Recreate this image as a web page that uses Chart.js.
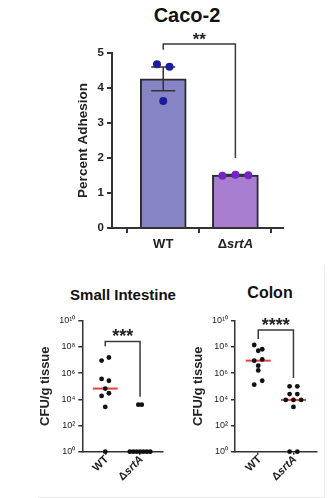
<!DOCTYPE html>
<html>
<head>
<meta charset="utf-8">
<title>Caco-2 adhesion / CFU per g tissue</title>
<script src="https://cdn.jsdelivr.net/npm/chart.js@4.4.1/dist/chart.umd.min.js"></script>
<style>
  html, body { margin: 0; padding: 0; background: #fff; }
  body { position: relative; width: 328px; height: 498px; overflow: hidden; font-family: 'Liberation Sans', Arial, sans-serif; color: #111; }
  .panel { position: absolute; }
  .title { position: absolute; text-align: center; font-weight: bold; white-space: nowrap; }
  .frame { position: absolute; left: 38px; top: 265px; width: 287px; height: 233px; box-sizing: border-box; border-right: 1px solid #ececec; border-bottom: 1px solid #ececec; }
</style>
</head>
<body>
<div class="frame"></div>
<div class="title" style="left:87px;top:3px;width:200px;font-size:20px;line-height:24px">Caco-2</div>
<div class="title" style="left:43px;top:286px;width:160px;font-size:15px;line-height:18px">Small Intestine</div>
<div class="title" style="left:200px;top:283px;width:140px;font-size:16px;line-height:19px">Colon</div>
<div class="panel" style="left:0;top:0;width:328px;height:265px"><canvas id="caco"></canvas></div>
<div class="panel" style="left:0;top:270px;width:170px;height:228px"><canvas id="si"></canvas></div>
<div class="panel" style="left:165px;top:270px;width:163px;height:228px"><canvas id="colon"></canvas></div>
<script>
// --- Caco-2 adhesion (bar = mean, error = SEM, dots = replicates)
const cacoLabels = ['WT', 'ΔsrtA'];
const cacoMeans = [4.26, 1.51];
const cacoSem = [0.34, 0.02];
const cacoWT = [4.68, 4.61, 3.63];
const cacoSrtA = [1.49, 1.52, 1.51];
const cacoTicks = [0, 1, 2, 3, 4, 5];
const cacoSig = { top: 5.26, leftEnd: 5.09, rightEnd: 2.0, text: '**' };

// --- CFU/g tissue (dots = mice, red line = median)
const groups = ['WT', 'ΔsrtA'];
const siWT = [9.1e6, 1.55e7, 3.6e5, 2.6e5, 6.6e4, 1.8e4, 2.9e4, 2.6e3, 1];
const siSrtA = [3.9e3, 3.9e3, 1, 1, 1, 1, 1, 1, 1];
const siMedian = [6.6e4, 1];
const siSig = { top: 2.6e8, leftEnd: 1.1e8, rightEnd: 1.6e4, text: '***' };
const colonWT = [1.4e8, 6.6e7, 5.1e7, 8.9e6, 1.1e7, 3.7e6, 1.6e6, 1.3e5, 2.6e5];
const colonSrtA = [9.8e4, 9.8e4, 2.5e4, 2.5e4, 8.9e3, 8.9e3, 8.9e3, 2.6e3, 1, 1];
const colonMedian = [8.9e6, 8.9e3];
const colonSig = { top: 1.95e9, leftEnd: 4.0e8, rightEnd: 4.3e5, text: '****' };
const cfuTicks = [1, 1e2, 1e4, 1e6, 1e8, 1e10];
const cfuTickLabels = ['10⁰', '10²', '10⁴', '10⁶', '10⁸', '10¹⁰'];

const FONT = "'Liberation Sans', Arial, sans-serif";
const INK = '#222';
const AXIS = '#333';
Chart.defaults.font.family = FONT;
Chart.defaults.color = INK;

// error bars on the bar dataset, drawn before the dots
const errorBars = {
  id: 'errorBars',
  afterDatasetDraw(chart, args, opts) {
    if (args.index !== 0) return;
    const { ctx, scales: { x, y } } = chart;
    ctx.save();
    ctx.strokeStyle = AXIS;
    ctx.lineWidth = 1.5;
    opts.means.forEach((m, i) => {
      const px = x.getPixelForValue(i);
      const hi = y.getPixelForValue(m + opts.sem[i]);
      const lo = y.getPixelForValue(m - opts.sem[i]);
      ctx.beginPath();
      ctx.moveTo(px, hi); ctx.lineTo(px, lo);
      ctx.moveTo(px - opts.cap, hi); ctx.lineTo(px + opts.cap, hi);
      ctx.moveTo(px - opts.cap, lo); ctx.lineTo(px + opts.cap, lo);
      ctx.stroke();
    });
    ctx.restore();
  }
};

// median lines, drawn under the axes and dots
const medians = {
  id: 'medians',
  beforeDraw(chart, args, opts) {
    if (!opts.values) return;
    const { ctx, scales: { x, y } } = chart;
    ctx.save();
    ctx.strokeStyle = '#e8413c';
    ctx.lineWidth = 2;
    opts.values.forEach((v, i) => {
      const px = x.getPixelForValue(i), py = y.getPixelForValue(v);
      ctx.beginPath();
      ctx.moveTo(px - opts.half, py); ctx.lineTo(px + opts.half, py);
      ctx.stroke();
    });
    ctx.restore();
  }
};

// significance bracket + stars
const bracket = {
  id: 'bracket',
  afterDraw(chart, args, opts) {
    const { ctx, scales: { x, y } } = chart;
    const x0 = x.getPixelForValue(0), x1 = x.getPixelForValue(1);
    const top = y.getPixelForValue(opts.sig.top);
    ctx.save();
    ctx.strokeStyle = '#3a3a3a';
    ctx.lineWidth = 1.5;
    ctx.beginPath();
    ctx.moveTo(x0, y.getPixelForValue(opts.sig.leftEnd));
    ctx.lineTo(x0, top);
    ctx.lineTo(x1, top);
    ctx.lineTo(x1, y.getPixelForValue(opts.sig.rightEnd));
    ctx.stroke();
    ctx.fillStyle = INK;
    ctx.font = `bold ${opts.starSize}px ${FONT}`;
    ctx.textAlign = 'center';
    ctx.textBaseline = 'alphabetic';
    ctx.fillText(opts.sig.text, (x0 + x1) / 2, top + 1);
    ctx.restore();
  }
};

// category labels, "srtA" in italics
const xLabels = {
  id: 'xLabels',
  afterDraw(chart, args, opts) {
    const { ctx, chartArea, scales: { x } } = chart;
    ctx.save();
    ctx.fillStyle = INK;
    ctx.textBaseline = 'middle';
    ctx.textAlign = 'left';
    opts.labels.forEach((t, i) => {
      const parts = t.startsWith('Δ') ? [['Δ', ''], [t.slice(1), 'italic ']] : [[t, '']];
      const widths = parts.map(([s, st]) => { ctx.font = `${st}bold ${opts.size}px ${FONT}`; return ctx.measureText(s).width; });
      const total = widths.reduce((a, b) => a + b, 0);
      ctx.save();
      let cx;
      if (opts.rotate) {
        ctx.translate(x.getPixelForValue(i) + 1.5, chartArea.bottom + opts.dy);
        ctx.rotate(-Math.PI / 4);
        cx = -total;
      } else {
        ctx.translate(x.getPixelForValue(i), chartArea.bottom + opts.dy);
        cx = -total / 2;
      }
      parts.forEach(([s, st], k) => {
        ctx.font = `${st}bold ${opts.size}px ${FONT}`;
        ctx.fillText(s, cx, 0);
        cx += widths[k];
      });
      ctx.restore();
    });
    ctx.restore();
  }
};

// spread dots that sit at about the same height side by side
function swarm(chart, thr) {
  const xs = chart.scales.x, ys = chart.scales.y;
  const unit = xs.getPixelForValue(1) - xs.getPixelForValue(0);
  chart.data.datasets.forEach(ds => {
    if (ds.swarm === undefined) return;
    const pts = ds.data;
    const py = pts.map(p => ys.getPixelForValue(p.y));
    const order = pts.map((_, i) => i).sort((a, b) => py[a] - py[b]);
    const rows = [];
    order.forEach(i => {
      const row = rows[rows.length - 1];
      if (row && Math.abs(py[i] - py[row[0]]) <= thr) row.push(i); else rows.push([i]);
    });
    rows.forEach(row => {
      row.sort((a, b) => a - b);
      row.forEach((i, k) => { pts[i].x = ds.group + (k - (row.length - 1) / 2) * ds.swarm / unit; });
    });
  });
  chart.update('none');
}

const axisGrid = (w, len) => ({ display: true, drawOnChartArea: false, drawTicks: true, tickLength: len, color: AXIS, lineWidth: w });

// Caco-2
const caco = new Chart(document.getElementById('caco'), {
  type: 'scatter',
  data: {
    datasets: [
      { type: 'bar', data: cacoMeans.map((m, i) => ({ x: i, y: m })), backgroundColor: ['#8784c6', '#a87ed0'],
        borderColor: '#2b2b2b', borderWidth: 2, barThickness: 46, order: 2 },
      { data: cacoWT.map(v => ({ x: 0, y: v })), group: 0, swarm: 12.5, pointRadius: 4, pointBackgroundColor: '#1d1c9c', pointBorderWidth: 0, order: 1, clip: false },
      { data: cacoSrtA.map(v => ({ x: 1, y: v })), group: 1, swarm: 13, pointRadius: 4, pointBackgroundColor: '#7424c4', pointBorderWidth: 0, order: 1, clip: false }
    ]
  },
  options: {
    responsive: true, maintainAspectRatio: false, animation: false,
    layout: { padding: { top: 53, right: 45, left: 0, bottom: 0 } },
    plugins: {
      legend: { display: false }, tooltip: { enabled: false },
      errorBars: { means: cacoMeans, sem: cacoSem, cap: 12 },
      bracket: { sig: cacoSig, starSize: 17 },
      xLabels: { labels: cacoLabels, size: 13, dy: 16, rotate: false }
    },
    scales: {
      x: {
        type: 'linear', min: -0.71, max: 1.66, offset: false,
        afterBuildTicks: s => { s.ticks = cacoLabels.map((_, i) => ({ value: i })); },
        afterFit: s => { s.height = 37; },
        ticks: { color: 'rgba(0,0,0,0)' },
        grid: axisGrid(2, 5), border: { color: AXIS, width: 2 }
      },
      y: {
        min: 0, max: 5,
        afterBuildTicks: s => { s.ticks = cacoTicks.map(v => ({ value: v })); },
        afterFit: s => { s.width = 112; },
        ticks: { font: { size: 11.5, weight: 'bold' }, color: INK, padding: 3 },
        grid: axisGrid(2, 5), border: { color: AXIS, width: 2 },
        title: { display: true, text: 'Percent Adhesion', font: { size: 13.5, weight: 'bold' }, color: INK, padding: { top: 75, bottom: 0 } }
      }
    }
  },
  plugins: [errorBars, bracket, xLabels]
});
swarm(caco, 4.4);

function cfuChart(id, wt, srtA, med, sig, stars, spacing, rightPad, titlePad) {
  const chart = new Chart(document.getElementById(id), {
    type: 'scatter',
    data: {
      datasets: [
        { data: wt.map(v => ({ x: 0, y: v })), group: 0, swarm: spacing[0], pointRadius: 2.4, pointBackgroundColor: '#111', pointBorderWidth: 0, clip: false },
        { data: srtA.map(v => ({ x: 1, y: v })), group: 1, swarm: spacing[1], pointRadius: 2.4, pointBackgroundColor: '#111', pointBorderWidth: 0, clip: false }
      ]
    },
    options: {
      responsive: true, maintainAspectRatio: false, animation: false,
      layout: { padding: { top: 50.7, right: rightPad, left: 0, bottom: 0 } },
      plugins: {
        legend: { display: false }, tooltip: { enabled: false },
        medians: { values: med, half: 12.5 },
        bracket: { sig: sig, starSize: stars },
        xLabels: { labels: groups, size: 11, dy: 6, rotate: true }
      },
      scales: {
        x: {
          type: 'linear', min: -0.66, max: 1.66, offset: false,
          afterBuildTicks: s => { s.ticks = groups.map((_, i) => ({ value: i })); },
          afterFit: s => { s.height = 46.3; },
          ticks: { color: 'rgba(0,0,0,0)' },
          grid: axisGrid(1.5, 3), border: { color: AXIS, width: 1.5 }
        },
        y: {
          type: 'logarithmic', min: 1, max: 1e10,
          afterBuildTicks: s => { s.ticks = cfuTicks.map(v => ({ value: v })); },
          afterFit: s => { s.width = id === 'si' ? 82.3 : 70; },
          ticks: { callback: (v, i) => cfuTickLabels[i], font: { size: 9 }, color: INK, padding: 3 },
          grid: axisGrid(1.5, 4), border: { color: AXIS, width: 1.5 },
          title: { display: true, text: 'CFU/g tissue', font: { size: 13, weight: 'bold' }, color: INK, padding: { top: titlePad, bottom: 0 } }
        }
      }
    },
    plugins: [medians, bracket, xLabels]
  });
  swarm(chart, 4.4);
  return chart;
}

cfuChart('si', siWT, siSrtA, siMedian, siSig, 18, [7.3, 3.4], 7, 38);
cfuChart('colon', colonWT, colonSrtA, colonMedian, colonSig, 18, [8, 7.7], 11.3, 26);
</script>
</body>
</html>
